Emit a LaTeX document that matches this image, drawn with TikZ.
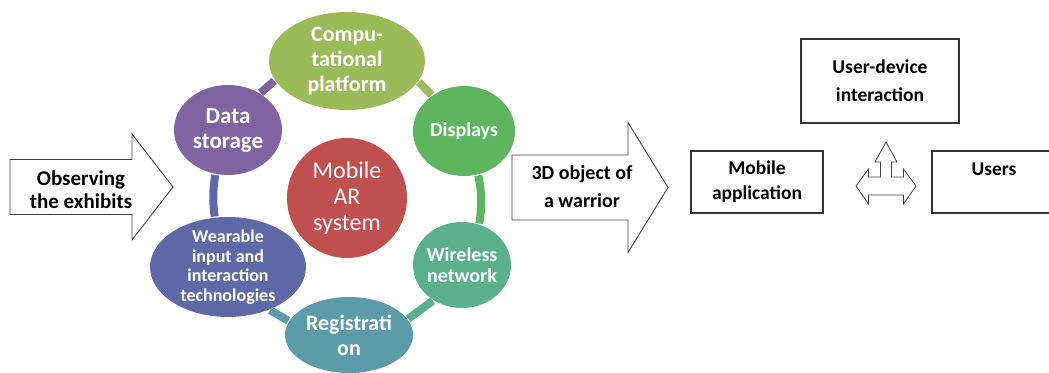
\documentclass[tikz,border=0pt]{standalone}
\usepackage{fontspec}
\setmainfont{Carlito}
\usetikzlibrary{shapes.geometric,positioning}
\definecolor{redA}{HTML}{C0504D}
\definecolor{limeA}{HTML}{9BBB59}
\definecolor{grnA}{HTML}{5EB560}
\definecolor{tealA}{HTML}{58B08C}
\definecolor{blueA}{HTML}{5B9CA8}
\definecolor{indA}{HTML}{5F69A8}
\definecolor{purpA}{HTML}{8064A2}
\newcommand{\txtsize}[2]{\fontsize{#1}{#2}\selectfont}

\begin{document}
\begin{tikzpicture}[x=1pt, y=1pt,
	bubble/.style={ellipse, fill=#1, text=white, inner sep=-4pt, align=center},
	link/.style={draw=#1, line width=8pt, shorten <=1pt, shorten >=1pt},
	tbox/.style={draw=black!80, line width=1.1pt, align=center, inner sep=0pt, font=\bfseries\txtsize{19.5}{25}},
	blockarrow/.style={draw=black!75, line width=0.9pt, fill=white, line join=miter}]
		\useasboundingbox (0,0) rectangle (1049,372);
		% cycle
		\node [bubble=redA, minimum width=120, minimum height=120, font=\txtsize{24}{26}] (mar) at (347,174) {Mobile\\AR\\system};
		\node [bubble=limeA, minimum width=156, minimum height=98, font=\bfseries\txtsize{22}{25}] (cp) at (347,311) {Compu-\\tational\\platform};
		\node [bubble=grnA, minimum width=102, minimum height=90, font=\bfseries\txtsize{20}{22}] (disp) at (464,241) {Displays};
		\node [bubble=tealA, minimum width=98, minimum height=86, font=\bfseries\txtsize{20}{21}] (wire) at (462,107) {Wireless\\network};
		\node [bubble=blueA, minimum width=128, minimum height=76, font=\bfseries\txtsize{22}{25}] (reg) at (349,37) {Registrati\\on};
		\node [bubble=indA, minimum width=156, minimum height=100, font=\bfseries\txtsize{18}{19.5}] (wear) at (228,105) {Wearable\\input and\\interaction\\technologies};
		\node [bubble=purpA, minimum width=108, minimum height=90, font=\bfseries\txtsize{23}{25}] (ds) at (228,242) {Data\\storage};
		\draw[link=purpA] (ds.49) -- (cp.195);
		\draw[link=limeA] (cp.344) -- (disp.132);
		\draw[link=grnA] (disp.288) to[bend left=10] (wire.67);
		\draw[link=tealA] (wire.231) -- (reg.15);
		\draw[link=blueA] (reg.167) -- (wear.314);
		\draw[link=indA] (wear.105) to[bend left=8] (ds.254);
		% block arrows
		\draw[blockarrow] (10,157.5) -- (132,157.5) -- (132,132) -- (173,185) -- (132,238) -- (132,212.5) -- (10,212.5) -- cycle;
		\node [font=\bfseries\txtsize{21}{23}, align=center] (obs) at (81,182) {Observing\\the exhibits};
		\draw[blockarrow] (512,152) -- (628,152) -- (628,119.5) -- (668,184.5) -- (628,249.5) -- (628,217) -- (512,217) -- cycle;
		\node [font=\bfseries\txtsize{20}{28}, align=center] (warrior) at (582,185.5) {3D object of\\a warrior};
		% right part
		\node [tbox, minimum width=158, minimum height=84, font=\bfseries\txtsize{19.5}{28}] (udi) at (880,291) {User-device\\interaction};
		\node [tbox, minimum width=132, minimum height=62] (app) at (757,190) {Mobile\\application};
		\node [tbox, minimum width=124, minimum height=62] (users) at (994,190) {Users\\~};
		\coordinate (hub) at (886,186);
		\draw[blockarrow, line width=0.8pt, shift={(hub)}] (0,44) -- (11,24) -- (5.5,24) -- (5.5,9) -- (17.5,9) -- (17.5,17) -- (30,0) -- (17.5,-18) -- (17.5,-9)
			-- (-17.5,-9) -- (-17.5,-18) -- (-30,0) -- (-17.5,17) -- (-17.5,9) -- (-5.5,9) -- (-5.5,24) -- (-11,24) -- cycle;
	\end{tikzpicture}
\end{document}
